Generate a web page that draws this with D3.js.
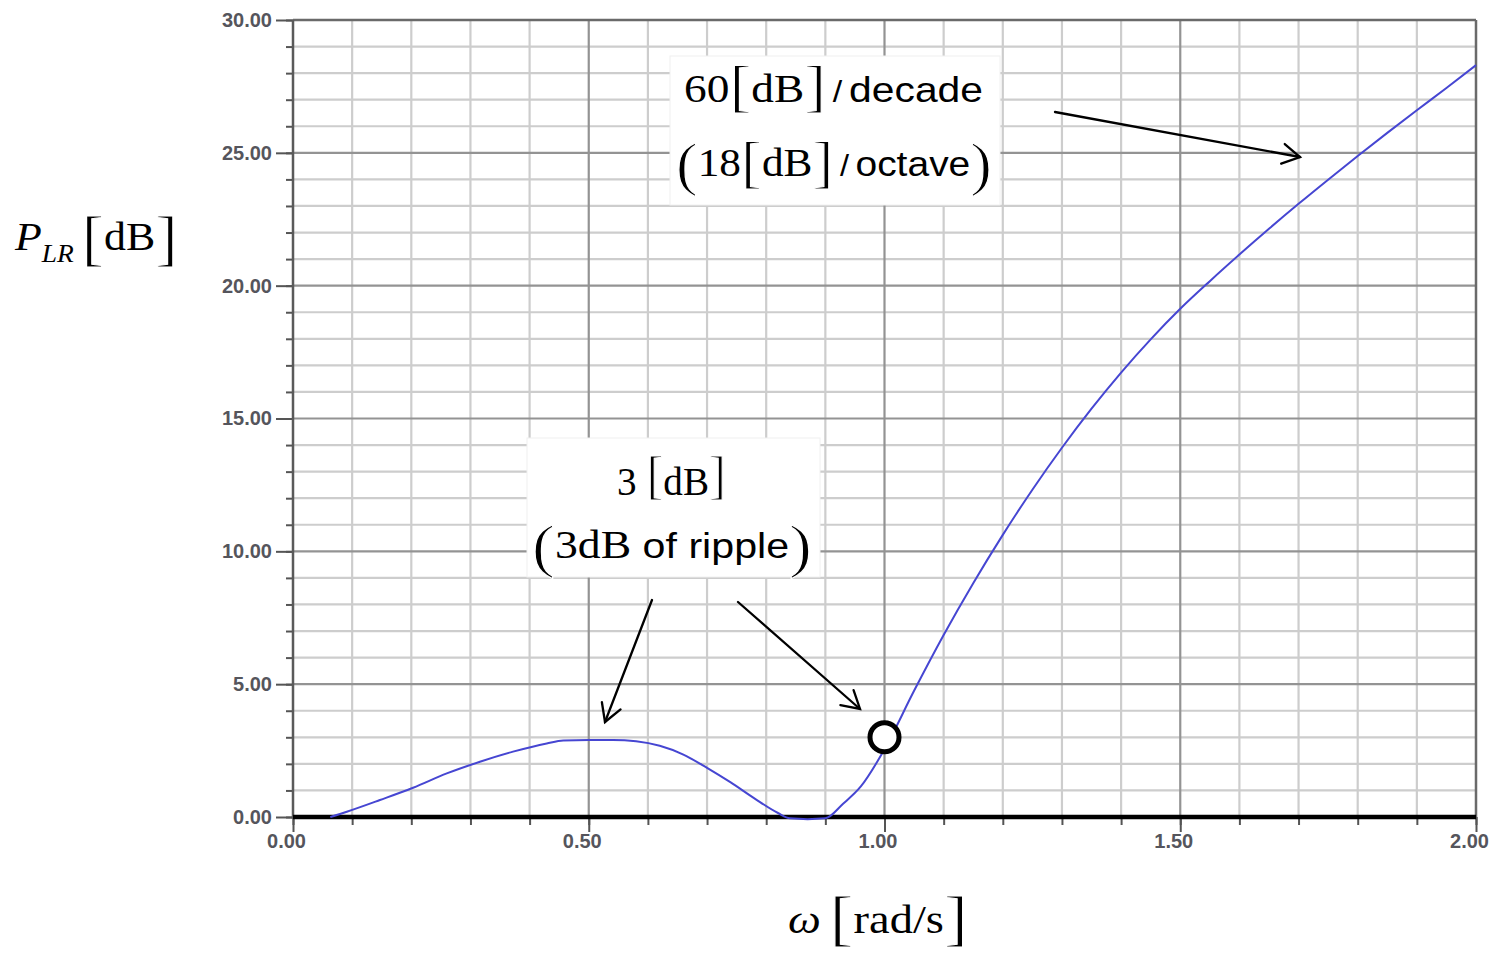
<!DOCTYPE html>
<html>
<head>
<meta charset="utf-8">
<script src="https://cdn.jsdelivr.net/npm/d3@7"></script>
<style>
  html, body { margin: 0; padding: 0; background: #fff; }
  svg { display: block; }
</style>
</head>
<body>
<svg id="chart" width="1495" height="954"></svg>
<script>
// Insertion loss of a 3rd-order Chebyshev low-pass prototype (3 dB ripple)
const omega = [0.063, 0.091, 0.147, 0.203, 0.26, 0.316, 0.372, 0.429, 0.457, 0.50, 0.541, 0.58,
  0.62, 0.66, 0.70, 0.74, 0.78, 0.82, 0.84, 0.87, 0.90, 0.93, 0.96, 1.00, 1.05, 1.10,
  1.15, 1.20, 1.25, 1.30, 1.35, 1.40, 1.45, 1.50, 1.55, 1.60, 1.65, 1.70, 1.75, 1.80, 1.85,
  1.90, 1.95, 2.00];
const plr = [0.0, 0.2, 0.64, 1.1, 1.64, 2.08, 2.46, 2.77, 2.88, 2.9, 2.9, 2.85,
  2.68, 2.35, 1.85, 1.3, 0.7, 0.15, -0.05, -0.08, -0.05, 0.5, 1.15, 2.55, 4.75, 6.85,
  8.8, 10.62, 12.32, 13.9, 15.37, 16.73, 17.98, 19.13, 20.17, 21.17, 22.14, 23.08, 23.99, 24.88, 25.75,
  26.6, 27.44, 28.3];

// Cutoff point marked on the curve (3 dB at ω = 1 rad/s)
const cutoff = { w: 1.0, db: 3.0 };

// Axis ticks
const xMajorTicks = [0, 0.5, 1.0, 1.5, 2.0];
const xMinorTicks = d3.range(0, 2.0001, 0.1).map(v => +v.toFixed(2));
const yMajorTicks = [0, 5, 10, 15, 20, 25, 30];
const yMinorTicks = d3.range(0, 31, 1);

const SERIF = "'Liberation Serif', 'Times New Roman', serif";
const SANS = "'Liberation Sans', Arial, sans-serif";

const svg = d3.select("#chart");
const pLeft = 293, pRight = 1476, pTop = 20, pBottom = 817;

const x = d3.scaleLinear().domain([0, 2]).range([pLeft, pRight]);
const y = d3.scaleLinear().domain([0, 30]).range([pBottom, pTop]);

// Grid
const grid = svg.append("g");
grid.selectAll("line.vmin").data(xMinorTicks.filter(v => v > 0 && v < 2 && xMajorTicks.indexOf(v) < 0))
  .join("line").attr("x1", d => x(d)).attr("x2", d => x(d)).attr("y1", pTop).attr("y2", pBottom)
  .attr("stroke", "#cdcdcd").attr("stroke-width", 2.2);
grid.selectAll("line.hmin").data(yMinorTicks.filter(v => v > 0 && v < 30 && v % 5 !== 0))
  .join("line").attr("x1", pLeft).attr("x2", pRight).attr("y1", d => y(d)).attr("y2", d => y(d))
  .attr("stroke", "#cdcdcd").attr("stroke-width", 2.2);
grid.selectAll("line.vmaj").data(xMajorTicks.filter(v => v > 0 && v < 2))
  .join("line").attr("x1", d => x(d)).attr("x2", d => x(d)).attr("y1", pTop).attr("y2", pBottom)
  .attr("stroke", "#939393").attr("stroke-width", 2.2);
grid.selectAll("line.hmaj").data(yMajorTicks.filter(v => v > 0 && v < 30))
  .join("line").attr("x1", pLeft).attr("x2", pRight).attr("y1", d => y(d)).attr("y2", d => y(d))
  .attr("stroke", "#939393").attr("stroke-width", 2.2);

// Frame
svg.append("line").attr("x1", pLeft).attr("x2", pRight).attr("y1", pTop).attr("y2", pTop)
  .attr("stroke", "#6a6a6a").attr("stroke-width", 2.5);
svg.append("line").attr("x1", pRight).attr("x2", pRight).attr("y1", pTop).attr("y2", pBottom)
  .attr("stroke", "#6a6a6a").attr("stroke-width", 2.5);

// Axes
const tickStyle = g => {
  g.select(".domain").remove();
  g.selectAll("line").attr("stroke", "#555").attr("stroke-width", 2);
  g.selectAll("text").attr("font-family", SANS).attr("font-size", 20).attr("font-weight", "bold")
    .attr("fill", "#55555c");
};
svg.append("g").attr("transform", `translate(${pLeft},0)`)
  .call(d3.axisLeft(y).tickValues(yMinorTicks).tickSize(7).tickFormat("")).call(tickStyle);
svg.append("g").attr("transform", `translate(${pLeft},0)`)
  .call(d3.axisLeft(y).tickValues(yMajorTicks).tickSize(17).tickPadding(4).tickFormat(d3.format(".2f")))
  .call(tickStyle);
svg.append("g").attr("transform", `translate(0,${pBottom})`)
  .call(d3.axisBottom(x).tickValues(xMinorTicks).tickSize(8).tickFormat("")).call(tickStyle);
svg.append("g").attr("transform", `translate(0,${pBottom})`)
  .call(d3.axisBottom(x).tickValues(xMajorTicks).tickSize(15).tickPadding(2).tickFormat(d3.format(".2f")))
  .call(tickStyle)
  .call(g => g.selectAll("text").attr("dx", -7));

// Left axis line and thick zero line
svg.append("line").attr("x1", pLeft).attr("x2", pLeft).attr("y1", pTop).attr("y2", pBottom + 2)
  .attr("stroke", "#5a5a5a").attr("stroke-width", 2.5);
svg.append("line").attr("x1", pLeft).attr("x2", pRight).attr("y1", y(0)).attr("y2", y(0))
  .attr("stroke", "#000").attr("stroke-width", 4.5);

// Curve
const pts = omega.map((w, i) => [w, plr[i]]);
svg.append("path").datum(pts)
  .attr("d", d3.line().x(d => x(d[0])).y(d => y(d[1])).curve(d3.curveMonotoneX))
  .attr("fill", "none").attr("stroke", "#4646d2").attr("stroke-width", 2);

// Rich text helper: mixed fonts, sizes and baseline offsets, stretched to a width.
// Tall delimiters get a thin white outline so their strokes stay light.
function rich(parent, cx, base, parts, width, anchor) {
  const g = parent.append("g").attr("transform", `translate(${cx},${base})`);
  const t = g.append("text").attr("text-anchor", anchor || "middle").attr("fill", "#000");
  let prev = 0;
  parts.forEach(p => {
    const dy = p.dy || 0;
    const ts = t.append("tspan")
      .attr("font-family", p.f).attr("font-size", p.s)
      .attr("font-style", p.i ? "italic" : null)
      .attr("dy", dy - prev)
      .text(p.t);
    if (p.s >= 50) ts.attr("stroke", "#fff").attr("stroke-width", 1.1);
    prev = dy;
  });
  if (width) {
    const w = t.node().getComputedTextLength();
    t.attr("transform", `scale(${width / w},1)`);
  }
  return g;
}

// Annotation boxes
const ann = svg.append("g");
ann.append("rect").attr("x", 670).attr("y", 56).attr("width", 330).attr("height", 149)
  .attr("fill", "#fff").attr("stroke", "#f0f0f0").attr("stroke-width", 1);
ann.append("rect").attr("x", 527).attr("y", 438).attr("width", 293).attr("height", 139)
  .attr("fill", "#fff").attr("stroke", "#f0f0f0").attr("stroke-width", 1);

rich(ann, 833.5, 102, [
  { t: "60", f: SERIF, s: 40 },
  { t: "[", f: SERIF, s: 58, dy: 3 },
  { t: "dB", f: SERIF, s: 40 },
  { t: "]", f: SERIF, s: 58, dy: 3 },
  { t: "\u2009/\u2009", f: SANS, s: 30 },
  { t: "decade", f: SANS, s: 36 }
], 299);
rich(ann, 834, 176, [
  { t: "(", f: SERIF, s: 60, dy: 8 },
  { t: "18", f: SERIF, s: 40 },
  { t: "[", f: SERIF, s: 58, dy: 5 },
  { t: "dB", f: SERIF, s: 40 },
  { t: "]", f: SERIF, s: 58, dy: 5 },
  { t: "\u2009/\u2009", f: SANS, s: 30 },
  { t: "octave", f: SANS, s: 36 },
  { t: ")", f: SERIF, s: 60, dy: 8 }
], 316);
rich(ann, 671.5, 495, [
  { t: "3\u00A0", f: SERIF, s: 40 },
  { t: "[", f: SERIF, s: 52, dy: -2 },
  { t: "dB", f: SERIF, s: 40 },
  { t: "]", f: SERIF, s: 52, dy: -2 }
], 109);
rich(ann, 672, 558, [
  { t: "(", f: SERIF, s: 60, dy: 8 },
  { t: "3dB", f: SERIF, s: 40 },
  { t: "\u00A0of ripple", f: SANS, s: 36 },
  { t: ")", f: SERIF, s: 60, dy: 8 }
], 280);

// Arrows with open heads
function arrow(x1, y1, x2, y2) {
  const a = Math.atan2(y2 - y1, x2 - x1), L = 20, h = Math.PI / 6;
  const g = svg.append("g").attr("stroke", "#000").attr("stroke-width", 2.3).attr("fill", "none")
    .attr("stroke-linecap", "round");
  g.append("line").attr("x1", x1).attr("y1", y1).attr("x2", x2).attr("y2", y2);
  g.append("path").attr("d",
    `M${x2 - L * Math.cos(a - h)},${y2 - L * Math.sin(a - h)}L${x2},${y2}L${x2 - L * Math.cos(a + h)},${y2 - L * Math.sin(a + h)}`);
}
arrow(1055, 112, 1300, 157);
arrow(652, 600, 605, 722);
arrow(738, 602, 860, 709);

// Cutoff marker
svg.append("circle").attr("cx", x(cutoff.w)).attr("cy", y(cutoff.db)).attr("r", 14.5)
  .attr("fill", "#fff").attr("stroke", "#000").attr("stroke-width", 5);

// Axis titles
rich(svg, 15, 250, [
  { t: "P", f: SERIF, s: 40, i: true },
  { t: "LR", f: SERIF, s: 25, i: true, dy: 12 },
  { t: "\u00A0", f: SERIF, s: 28 },
  { t: "[", f: SERIF, s: 62, dy: 9 },
  { t: "dB", f: SERIF, s: 40 },
  { t: "]", f: SERIF, s: 62, dy: 9 }
], 163, "start");
rich(svg, 878, 933, [
  { t: "\u03C9", f: SERIF, s: 40, i: true },
  { t: "\u00A0", f: SERIF, s: 30 },
  { t: "[", f: SERIF, s: 62, dy: 6 },
  { t: "rad/s", f: SERIF, s: 40 },
  { t: "]", f: SERIF, s: 62, dy: 6 }
], 180);
</script>
</body>
</html>
